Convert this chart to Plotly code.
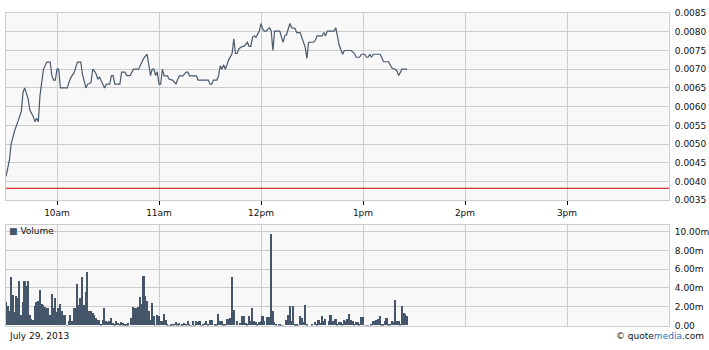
import pandas as pd
import plotly.graph_objects as go

# ---- data ----
session_date = "2013-07-29"
session_open = "09:30"

price_minutes = [0, 2, 3, 5, 7, 9, 10, 11, 13, 14, 16, 17, 18, 19, 20, 21, 22, 24, 26, 27,
                 28, 29, 30, 31, 32, 36, 38, 40, 41, 42, 44, 45, 47, 48, 50, 51, 52, 53, 54, 55,
                 56, 58, 59, 61, 62, 63, 64, 67, 68, 70, 71, 73, 75, 78, 80, 81, 83, 84, 85, 86,
                 87, 88, 89, 90, 91, 92, 93, 95, 96, 98, 100, 101, 102, 104, 106, 107, 108, 112, 113, 119,
                 120, 121, 122, 124, 125, 126, 127, 128, 129, 130, 131, 133, 134, 135, 136, 137, 139, 140, 142, 143,
                 144, 145, 146, 147, 148, 149, 150, 151, 152, 153, 155, 156, 157, 158, 161, 162, 163, 164, 165, 167,
                 168, 170, 171, 173, 174, 175, 176, 177, 178, 181, 182, 183, 186, 187, 188, 189, 193, 194, 195, 196,
                 198, 199, 203, 205, 206, 208, 209, 211, 212, 213, 214, 215, 216, 220, 221, 222, 225, 227, 229, 230,
                 231, 233, 236]
price_values = [0.00414, 0.00457, 0.00500, 0.00535, 0.00560, 0.00587, 0.00638, 0.00650, 0.00621, 0.00591,
                0.00574, 0.00560, 0.00569, 0.00560, 0.00630, 0.00664, 0.00699, 0.00719, 0.00719, 0.00682,
                0.00671, 0.00671, 0.00700, 0.00700, 0.00650, 0.00650, 0.00677, 0.00690, 0.00707, 0.00719,
                0.00719, 0.00686, 0.00650, 0.00660, 0.00664, 0.00700, 0.00695, 0.00688, 0.00673, 0.00680,
                0.00669, 0.00650, 0.00660, 0.00660, 0.00683, 0.00683, 0.00660, 0.00660, 0.00692, 0.00692,
                0.00683, 0.00683, 0.00700, 0.00700, 0.00720, 0.00729, 0.00740, 0.00707, 0.00683, 0.00700,
                0.00700, 0.00683, 0.00693, 0.00660, 0.00660, 0.00700, 0.00682, 0.00682, 0.00673, 0.00671,
                0.00660, 0.00673, 0.00682, 0.00682, 0.00692, 0.00692, 0.00682, 0.00682, 0.00671, 0.00671,
                0.00660, 0.00660, 0.00671, 0.00671, 0.00682, 0.00709, 0.00700, 0.00712, 0.00700, 0.00712,
                0.00725, 0.00742, 0.00781, 0.00742, 0.00742, 0.00755, 0.00761, 0.00761, 0.00772, 0.00761,
                0.00761, 0.00785, 0.00789, 0.00785, 0.00794, 0.00802, 0.00822, 0.00807, 0.00802, 0.00802,
                0.00811, 0.00802, 0.00750, 0.00802, 0.00802, 0.00789, 0.00772, 0.00789, 0.00792, 0.00822,
                0.00811, 0.00809, 0.00798, 0.00798, 0.00785, 0.00776, 0.00759, 0.00729, 0.00772, 0.00772,
                0.00778, 0.00789, 0.00789, 0.00798, 0.00789, 0.00802, 0.00802, 0.00811, 0.00781, 0.00764,
                0.00740, 0.00750, 0.00750, 0.00742, 0.00732, 0.00732, 0.00740, 0.00740, 0.00732, 0.00732,
                0.00740, 0.00732, 0.00740, 0.00740, 0.00732, 0.00720, 0.00720, 0.00703, 0.00700, 0.00695,
                0.00683, 0.00700, 0.00700]

previous_close = 0.00382

# one bar per minute from the open, in millions
volume_millions = [
    2.5, 2.1, 1.5, 5.1, 3.2, 1.4, 3.1, 2.9, 4.7, 1.1,
    2.5, 4.7, 4.2, 4.7, 1.1, 0.7, 0.6, 2.1, 2.5, 2.6,
    3.8, 2.3, 2.2, 2.0, 1.8, 1.8, 1.1, 3.3, 1.8, 2.9,
    1.4, 1.8, 2.3, 1.5, 1.1, 1.1, 0.03, 0.45, 1.1, 0.45,
    1.8, 1.8, 4.4, 2.2, 2.9, 5.1, 2.2, 3.5, 5.7, 1.5,
    1.5, 1.3, 1.1, 0.8, 0.6, 0.6, 0.1, 0.6, 1.8, 0.45,
    0.35, 0.5, 0.8, 0.3, 0.1, 0.45, 0.3, 0.1, 0.4,
    0.2, 0.1, 0.17, 0.2, 0.0, 0.8, 2.0, 1.8, 1.9, 2.0,
    3.0, 2.3, 5.3, 3.1, 2.6, 1.5, 0.6, 2.4, 1.0, 0.03,
    1.1, 1.0, 0.45, 0.5, 1.2, 0.6, 0.1, 0.03, 0.1,
    0.1, 0.17, 0.4, 0.1, 0.3, 0.03, 0.1, 0.3, 0.1, 0.5,
    0.1, 0.03, 0.45, 0.03, 0.5, 0.4, 0.5, 0.03, 0.1, 0.3,
    0.45, 0.1,
    0.55, 0.55, 0.0, 0.1, 0.17, 1.2, 0.5, 0.45, 0.1, 0.17,
    0.7, 0.7, 0.8, 5.1, 1.65, 0.0, 0.45, 0.0, 0.3, 1.0,
    1.0, 0.3, 0.1, 1.0, 0.5, 1.8, 0.5, 0.4, 0.1, 0.4,
    0.45, 1.0, 0.45, 0.0, 0.9, 0.9, 9.76, 1.55, 0.4, 0.1,
    0.0, 0.1, 0.03, 0.03, 0.0, 0.6, 1.1, 2.1, 0.5, 2.1,
    0.1, 0.1, 0.03, 1.0, 0.8, 0.4, 2.2, 0.17, 0.0, 0.0,
    0.17, 0.0, 0.4, 0.17, 0.55, 0.3, 1.0, 0.5, 0.7, 0.0,
    0.45, 1.1, 0.45, 0.45, 0.7, 0.1, 0.35, 0.35, 0.17, 0.55,
    0.5, 0.7, 1.2, 0.55, 0.45, 0.1, 0.35, 0.35, 0.1, 0.9,
    0.9, 0.0, 0.03, 0.03, 0.0, 0.1, 0.5, 0.45, 0.6, 0.7,
    1.0, 0.17, 0.1, 0.45, 0.8, 0.1, 0.17, 0.5, 0.35, 2.7,
    0.45, 0.5, 0.1, 2.1, 1.3, 1.2, 1.0,
]

hour_ticks = ["10:00", "11:00", "12:00", "13:00", "14:00", "15:00"]
hour_labels = ["10am", "11am", "12pm", "1pm", "2pm", "3pm"]
price_ticks = [0.0035, 0.0040, 0.0045, 0.0050, 0.0055, 0.0060, 0.0065, 0.0070, 0.0075, 0.0080, 0.0085]
volume_ticks = [0, 2, 4, 6, 8, 10]
volume_labels = ["0.00", "2.00m", "4.00m", "6.00m", "8.00m", "10.00m"]

# ---- build ----
base = pd.Timestamp(f"{session_date} {session_open}")
price_x = [base + pd.Timedelta(minutes=m) for m in price_minutes]
vol_x = [base + pd.Timedelta(minutes=i) for i in range(len(volume_millions))]
tick_x = [pd.Timestamp(f"{session_date} {t}") for t in hour_ticks]
x_start = base
x_end = pd.Timestamp(f"{session_date} 16:00")

W, H = 709, 350
FONT = "DejaVu Sans"
GRID = "#CDCDCD"
DARK = "#46566A"

fig = go.Figure()
fig.add_trace(go.Scatter(x=price_x, y=price_values, mode="lines",
                         line=dict(color="#4A5A6D", width=1.2), xaxis="x", yaxis="y",
                         showlegend=False, hoverinfo="skip"))
fig.add_trace(go.Bar(x=vol_x, y=volume_millions, marker=dict(color=DARK, line=dict(width=0)),
                     width=58000, xaxis="x2", yaxis="y2", showlegend=False, hoverinfo="skip"))

xdom = [6 / W, 669 / W]
common_x = dict(range=[x_start, x_end], domain=xdom, type="date", showgrid=True, gridcolor=GRID,
                gridwidth=1, tickvals=tick_x, showline=True, linecolor=GRID, mirror=True,
                zeroline=False)

fig.update_layout(
    width=W, height=H, margin=dict(l=0, r=0, t=0, b=0),
    paper_bgcolor="white", plot_bgcolor="#F8F8F8",
    font=dict(family=FONT, size=9, color="#111111"),
    bargap=0,
    xaxis=dict(**common_x, ticktext=hour_labels, ticks="outside", ticklen=4, tickcolor="#000000",
               tickwidth=1, anchor="y"),
    yaxis=dict(range=[0.0035, 0.0085], domain=[(H - 201) / H, (H - 8.3) / H], side="right",
               tickvals=price_ticks, ticktext=[f"{v:.4f}" for v in price_ticks],
               showgrid=True, gridcolor=GRID, showline=True, linecolor=GRID, mirror=True,
               zeroline=False, anchor="x", ticks="outside", ticklen=3, tickcolor="rgba(0,0,0,0)"),
    xaxis2=dict(**common_x, showticklabels=False, anchor="y2"),
    yaxis2=dict(range=[0, 10.68], domain=[(H - 330) / H, (H - 226.7) / H], side="right",
                tickvals=volume_ticks, ticktext=volume_labels, showgrid=True, gridcolor=GRID,
                showline=True, linecolor=GRID, mirror=True, zeroline=False, anchor="x2",
                ticks="outside", ticklen=3, tickcolor="rgba(0,0,0,0)"),
)

fig.add_shape(type="line", xref="x", yref="y", x0=x_start, x1=x_end, y0=previous_close,
              y1=previous_close, line=dict(color="#CC0000", width=1))

fig.add_annotation(xref="paper", yref="paper", x=7 / W, y=(H - 232.5) / H, xanchor="left",
                   yanchor="middle", showarrow=False,
                   text=f"<span style='color:{DARK}'>■</span> Volume",
                   font=dict(family=FONT, size=9, color="#111111"))
fig.add_annotation(xref="paper", yref="paper", x=7 / W, y=(H - 341) / H, xanchor="left",
                   yanchor="middle", showarrow=False, text="July 29, 2013",
                   font=dict(family=FONT, size=9, color="#111111"))
fig.add_annotation(xref="paper", yref="paper", x=706 / W, y=(H - 341) / H, xanchor="right",
                   yanchor="middle", showarrow=False,
                   text="© quote<span style='color:#2E6DB4'>media</span>.com",
                   font=dict(family=FONT, size=9, color="#111111"))

fig.write_html("out.html")
